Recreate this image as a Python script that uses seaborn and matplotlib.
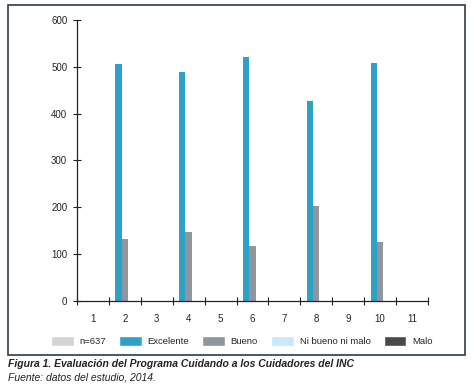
import matplotlib
matplotlib.use("Agg")
import matplotlib.pyplot as plt
import seaborn as sns
import pandas as pd
from matplotlib.patches import Rectangle, Patch

categorias = [str(i) for i in range(1, 12)]
series = ["n=637", "Excelente", "Bueno", "Ni bueno ni malo", "Malo"]
colores = ["#d3d3d3", "#2ea2c6", "#8e979b", "#c8e9f6", "#4a4a4a"]

excelente = [0, 505, 0, 489, 0, 521, 0, 428, 0, 508, 0]
bueno = [0, 133, 0, 147, 0, 117, 0, 203, 0, 126, 0]
n637 = [0] * 11
ni_bueno = [0] * 11
malo = [0] * 11

valores = {"n=637": n637, "Excelente": excelente, "Bueno": bueno,
           "Ni bueno ni malo": ni_bueno, "Malo": malo}

filas = []
for s in series:
    for c, v in zip(categorias, valores[s]):
        filas.append({"cat": c, "serie": s, "valor": v})
df = pd.DataFrame(filas)

sns.set_style("white")
plt.rcParams['font.family'] = ['Liberation Sans', 'DejaVu Sans']

fig = plt.figure(figsize=(4.74, 3.88), dpi=100)
ax = fig.add_axes([0.1624, 0.2242, 0.7405, 0.7243])

sns.barplot(data=df, x="cat", y="valor", hue="serie", order=categorias,
            hue_order=series, palette=colores, width=1.0, linewidth=0,
            saturation=1, legend=False, ax=ax)

ax.set_xlim(-0.5, 10.5)
ax.set_ylim(0, 600)
ax.set_yticks([0, 100, 200, 300, 400, 500, 600])
ax.set_xticks([i - 0.5 for i in range(12)])
ax.set_xticklabels([])
ax.set_xticks(range(11), minor=True)
ax.set_xticklabels(categorias, minor=True)
ax.tick_params(axis="x", which="major", bottom=True, direction="inout", length=6,
               width=0.8, color="#222222")
ax.tick_params(axis="x", which="minor", bottom=True, length=0, pad=9, labelsize=7)
ax.tick_params(axis="y", left=True, direction="inout", length=6, width=0.8,
               labelsize=7, color="#222222", pad=4)
ax.set_xlabel("")
ax.set_ylabel("")
for s in ["top", "right"]:
    ax.spines[s].set_visible(False)
for s in ["left", "bottom"]:
    ax.spines[s].set_color("#222222")
    ax.spines[s].set_linewidth(0.9)

handles = [Patch(facecolor=c, label=s) for s, c in zip(series, colores)]
fig.legend(handles=handles, loc="center", bbox_to_anchor=(0.51, 0.121), ncol=5,
           frameon=False, fontsize=6.8, handlelength=2.4, handleheight=1.2,
           columnspacing=1.4, handletextpad=0.6)

fig.patches.append(Rectangle((0.017, 0.085), 0.964, 0.902, transform=fig.transFigure,
                             fill=False, edgecolor="#2f3b46", linewidth=1.2))

fig.text(0.017, 0.063, "Figura 1. Evaluación del Programa Cuidando a los Cuidadores del INC",
         fontsize=7.5, fontweight="bold", fontstyle="italic", va="center", color="#222222")
fig.text(0.017, 0.026, "Fuente: datos del estudio, 2014.",
         fontsize=7.5, fontstyle="italic", va="center", color="#222222")

fig.savefig("out.png", dpi=100)
